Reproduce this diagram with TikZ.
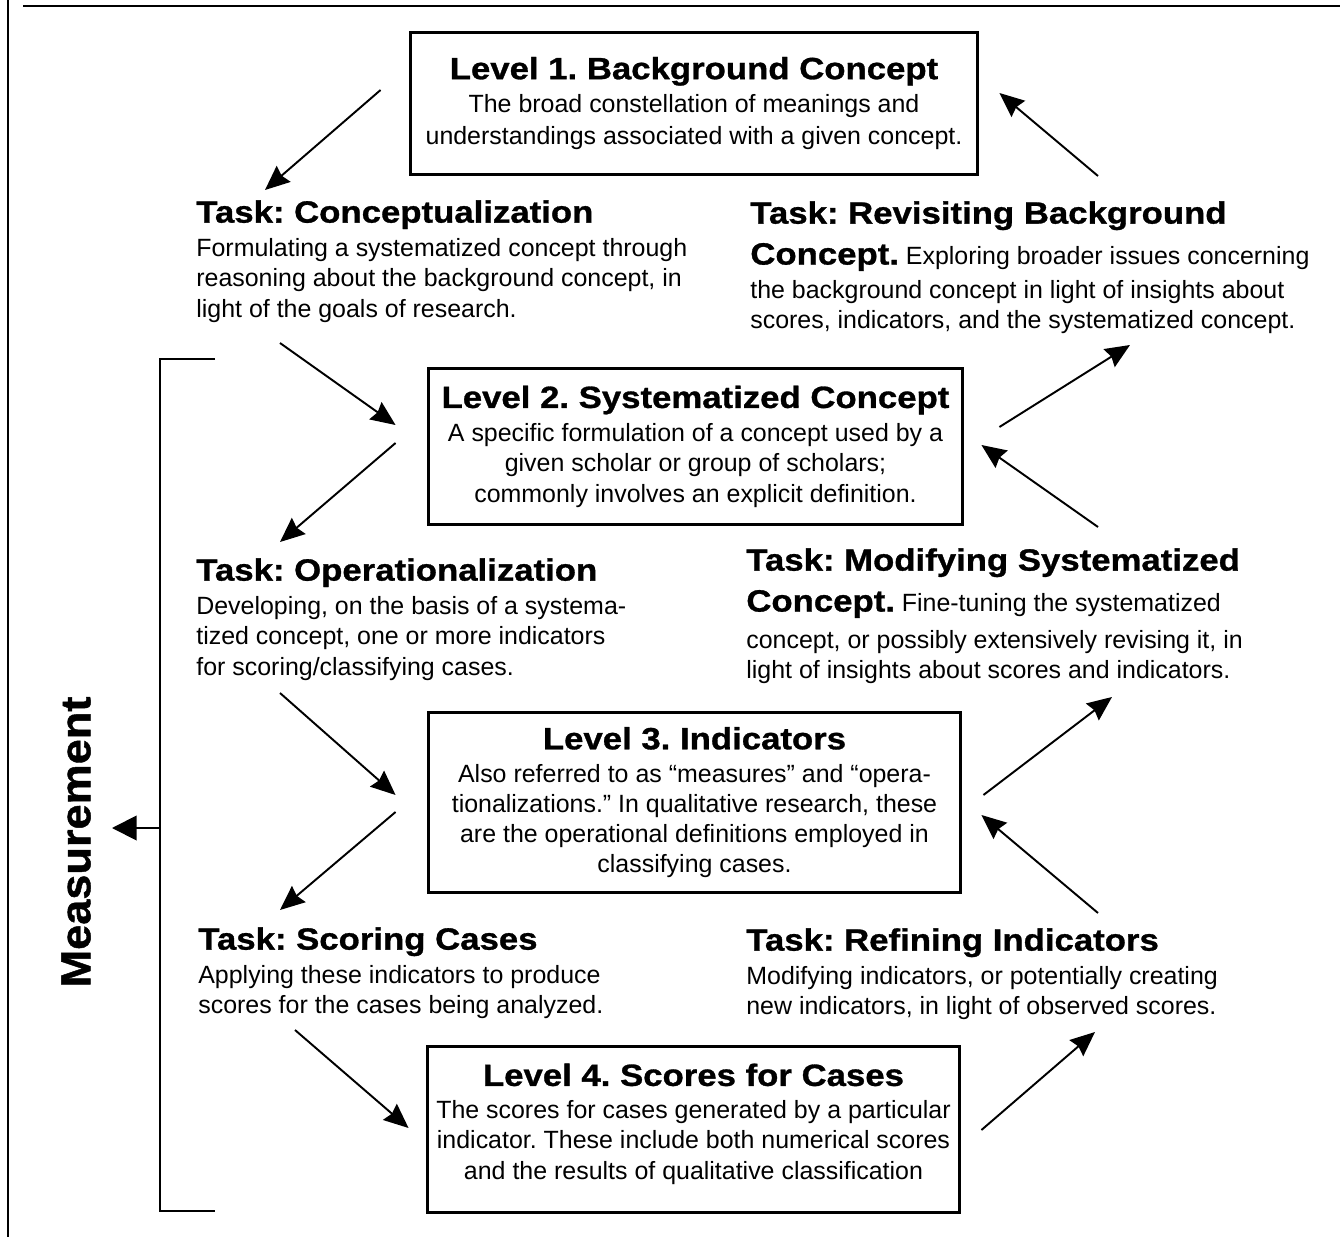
\documentclass[tikz,border=0pt]{standalone}
\usepackage{fontspec}
\setmainfont{Liberation Sans}
\newfontfamily\hdfont{Liberation Sans Bold}[FakeStretch=1.13, FakeBold=1]
\newfontfamily\msfont{Liberation Sans Bold}[FakeStretch=1.07, FakeBold=1]
\usetikzlibrary{calc,positioning,arrows.meta}

\newcommand{\hd}{\fontsize{17.5}{20}\hdfont}
\frenchspacing

\begin{document}
\begin{tikzpicture}[x=0.02cm,y=-0.02cm]
	\tikzstyle{level}=[draw=black, line width=1.7pt, align=center, inner sep=0pt, font=\fontsize{14.2}{17.2}\selectfont]
	\tikzstyle{task}=[anchor=north west, align=left, inner sep=0pt, font=\fontsize{14.2}{17.3}\selectfont]
	\tikzstyle{usage}=[-{Stealth[length=14pt,width=12pt,inset=1.5pt]}, line width=1.1pt]
	\tikzstyle{bracket}=[line width=1.6pt]

	\useasboundingbox (0,0) rectangle (1340,1237);
	\draw[line width=1.2pt] (8,0) -- (8,1237);
	\draw[line width=1.2pt] (23,6) -- (1340,6);

	\node (l1) [level, minimum width=11.36cm, minimum height=2.86cm] at (694,103.5) {{\hd Level 1. Background Concept}\\[1.5pt] The broad constellation of meanings and\\[1.5pt] understandings associated with a given concept.};
	\node (l2) [level, minimum width=10.7cm, minimum height=3.14cm] at (695.5,446.5) {{\hd Level 2. Systematized Concept}\\[2pt] A specific formulation of a concept used by a\\ given scholar or group of scholars;\\ commonly involves an explicit definition.};
	\node (l3) [level, minimum width=10.66cm, minimum height=3.62cm] at (694.5,802.5) {{\hd Level 3. Indicators}\\[1.5pt] Also referred to as “measures” and “opera-\\ tionalizations.” In qualitative research, these\\ are the operational definitions employed in\\ classifying cases.};
	\node (l4) [level, minimum width=10.66cm, minimum height=3.34cm] at (693.5,1129.5) {{\hd Level 4. Scores for Cases}\\[1.5pt] The scores for cases generated by a particular\\ indicator. These include both numerical scores\\ and the results of qualitative classification\\[-8pt]};

	\node (c1) [task] at (196,200) {{\hd Task: Conceptualization}\\[2pt] Formulating a systematized concept through\\ reasoning about the background concept, in\\ light of the goals of research.};
	\node (c2) [task] at (196,558) {{\hd Task: Operationalization}\\[2pt] Developing, on the basis of a systema-\\ tized concept, one or more indicators\\ for scoring/classifying cases.};
	\node (c3) [task] at (198,927) {{\hd Task: Scoring Cases}\\[2pt] Applying these indicators to produce\\ scores for the cases being analyzed.};
	\node (r1) [task] at (750,201) {{\hd Task: Revisiting Background}\\[6pt] {\hd Concept.} Exploring broader issues concerning\\[2pt] the background concept in light of insights about\\ scores, indicators, and the systematized concept.};
	\node (r2) [task] at (746,548) {{\hd Task: Modifying Systematized}\\[6pt] {\hd Concept.} Fine-tuning the systematized\\[3.5pt] concept, or possibly extensively revising it, in\\ light of insights about scores and indicators.};
	\node (r3) [task] at (746,928) {{\hd Task: Refining Indicators}\\[2pt] Modifying indicators, or potentially creating\\ new indicators, in light of observed scores.};

	\node (ms) [rotate=90, font=\fontsize{24}{28}\msfont] at (76,842) {Measurement};

	\coordinate (bt) at (215,359);
	\coordinate (bb) at (215,1211);
	\coordinate (bm) at (160,828);
	\coordinate (mt) at (112,828);
	\draw[bracket] (bt) -- (bt -| bm) -- (bb -| bm) -- (bb);
	\draw[usage, -{Triangle[length=14pt,width=14pt]}] (bm) -- (mt);

	\draw[usage] ($(l1.west)+(-28,-13.5)$) -- ($(c1.north west)+(69,-10)$);
	\draw[usage] ($(c1.north west)+(84,143)$) -- ($(l2.west)+(-31,-21.5)$);
	\draw[usage] ($(l2.west)+(-31,-3.5)$) -- ($(c2.north west)+(84,-16)$);
	\draw[usage] ($(c2.north west)+(84,135)$) -- ($(l3.west)+(-31,-7.5)$);
	\draw[usage] ($(l3.west)+(-31,9.5)$) -- ($(c3.north west)+(82,-17)$);
	\draw[usage] ($(c3.north west)+(97,103)$) -- ($(l4.west)+(-17,-1.5)$);

	\draw[usage] ($(r1.north west)+(348,-25)$) -- ($(l1.east)+(20,-10.5)$);
	\draw[usage] ($(l2.east)+(35,-19.5)$) -- ($(r1.north west)+(380,144)$);
	\draw[usage] ($(r2.north west)+(352,-21)$) -- ($(l2.east)+(17,-1.5)$);
	\draw[usage] ($(l3.east)+(21,-7.5)$) -- ($(r2.north west)+(366,149)$);
	\draw[usage] ($(r3.north west)+(352,-15)$) -- ($(l3.east)+(19,12.5)$);
	\draw[usage] ($(l4.east)+(20,0.5)$) -- ($(r3.north west)+(349,104)$);
\end{tikzpicture}
\end{document}
